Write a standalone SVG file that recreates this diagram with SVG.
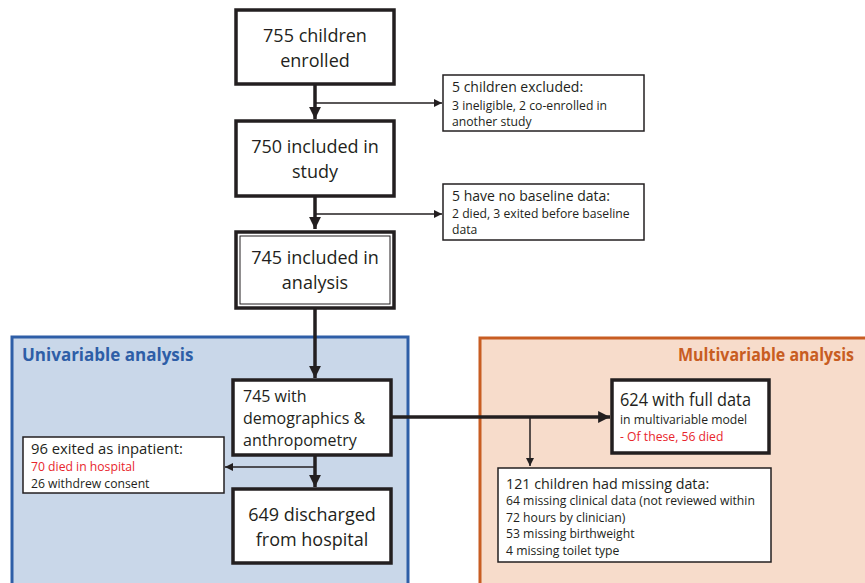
<svg xmlns="http://www.w3.org/2000/svg" width="865" height="583" viewBox="0 0 865 583">
<style>
text{font-family:"Open Sans","Liberation Sans",sans-serif;fill:#231f20}
.big{font-size:18px}
.mid{font-size:14px}
.sm{font-size:12.2px}
.red{fill:#e8262c}
.thick{fill:#fff;stroke:#231f20;stroke-width:3.5}
.thin{fill:#fff;stroke:#231f20;stroke-width:1.5}
.c3{fill:none;stroke:#231f20;stroke-width:3.5}
.c1{fill:none;stroke:#231f20;stroke-width:1.5}
</style>
<defs>
<marker id="ab" viewBox="0 0 10 10" refX="10" refY="5" markerWidth="3.4" markerHeight="3.4" orient="auto" markerUnits="strokeWidth"><path d="M0,0L10,5L0,10z" fill="#231f20"/></marker>
<marker id="as" viewBox="0 0 10 10" refX="10" refY="5" markerWidth="5.5" markerHeight="5.5" orient="auto" markerUnits="strokeWidth"><path d="M0,0L10,5L0,10z" fill="#231f20"/></marker>
</defs>
<rect width="865" height="583" fill="#fff"/>
<g id="panel-uni">
<rect x="12" y="337" width="396" height="260" fill="#c9d7e9" stroke="#2e5ea7" stroke-width="3"/>
<text x="22" y="361" style="font-size:17px;font-weight:bold;fill:#2e5ea7">Univariable analysis</text>
</g>
<g id="panel-multi">
<rect x="480" y="338" width="400" height="260" fill="#f7dccb" stroke="#c85d22" stroke-width="3"/>
<text x="678" y="361" textLength="176" lengthAdjust="spacingAndGlyphs" style="font-size:17px;font-weight:bold;fill:#c85d22">Multivariable analysis</text>
</g>
<g id="connectors">
<path class="c3" d="M315,84V119" marker-end="url(#ab)"/>
<path class="c1" d="M315,103H442" marker-end="url(#as)"/>
<path class="c3" d="M315,196V229" marker-end="url(#ab)"/>
<path class="c1" d="M315,214H442" marker-end="url(#as)"/>
<path class="c3" d="M315,308V378" marker-end="url(#ab)"/>
<path class="c3" d="M315,455V487" marker-end="url(#ab)"/>
<path class="c1" d="M315,467H225" marker-end="url(#as)"/>
<path class="c3" d="M391,417H610" marker-end="url(#ab)"/>
<path class="c1" d="M530,417V466" marker-end="url(#as)"/>
</g>
<g id="n755">
<rect class="thick" x="236" y="10" width="158" height="74"/>
<text class="big" x="315" y="42" text-anchor="middle">755 children</text>
<text class="big" x="315" y="67" text-anchor="middle">enrolled</text>
</g>
<g id="n750">
<rect class="thick" x="236" y="121" width="158" height="75"/>
<text class="big" x="315" y="153" text-anchor="middle">750 included in</text>
<text class="big" x="315" y="178" text-anchor="middle">study</text>
</g>
<g id="n745a">
<rect class="thick" x="236" y="232" width="158" height="76"/>
<rect x="240" y="236" width="150" height="68" fill="none" stroke="#231f20" stroke-width="1"/>
<text class="big" x="315" y="264" text-anchor="middle">745 included in</text>
<text class="big" x="315" y="289" text-anchor="middle">analysis</text>
</g>
<g id="excl1">
<rect class="thin" x="443" y="75" width="201" height="56"/>
<text class="mid" x="452" y="92">5 children excluded:</text>
<text class="sm" x="452" y="110">3 ineligible, 2 co-enrolled in</text>
<text class="sm" x="452" y="126">another study</text>
</g>
<g id="excl2">
<rect class="thin" x="443" y="184" width="201" height="56"/>
<text class="mid" x="452" y="201">5 have no baseline data:</text>
<text class="sm" x="452" y="218">2 died, 3 exited before baseline</text>
<text class="sm" x="452" y="234">data</text>
</g>
<g id="n745b">
<rect class="thick" x="233" y="380" width="158" height="75"/>
<text x="243" y="402" style="font-size:16px">745 with</text>
<text x="243" y="424" style="font-size:16px">demographics &amp;</text>
<text x="243" y="446" style="font-size:16px">anthropometry</text>
</g>
<g id="exited">
<rect class="thin" x="23" y="437" width="201" height="56"/>
<text x="31" y="454" style="font-size:14.8px">96 exited as inpatient:</text>
<text class="sm red" x="31" y="471">70 died in hospital</text>
<text class="sm" x="31" y="488">26 withdrew consent</text>
</g>
<g id="n649">
<rect class="thick" x="233" y="489" width="158" height="74"/>
<text class="big" x="312" y="521" text-anchor="middle">649 discharged</text>
<text class="big" x="312" y="546" text-anchor="middle">from hospital</text>
</g>
<g id="n624">
<rect class="thick" x="612" y="380" width="157" height="73"/>
<text x="620" y="406" textLength="131" lengthAdjust="spacingAndGlyphs" style="font-size:17.5px">624 with full data</text>
<text class="sm" x="620" y="424">in multivariable model</text>
<text class="sm red" x="620" y="441">- Of these, 56 died</text>
</g>
<g id="missing">
<rect class="thin" x="498" y="468" width="273" height="94"/>
<text x="506" y="489" style="font-size:14.3px">121 children had missing data:</text>
<text class="sm" x="506" y="505">64 missing clinical data (not reviewed within</text>
<text class="sm" x="506" y="522">72 hours by clinician)</text>
<text class="sm" x="506" y="538">53 missing birthweight</text>
<text class="sm" x="506" y="555">4 missing toilet type</text>
</g>
</svg>
